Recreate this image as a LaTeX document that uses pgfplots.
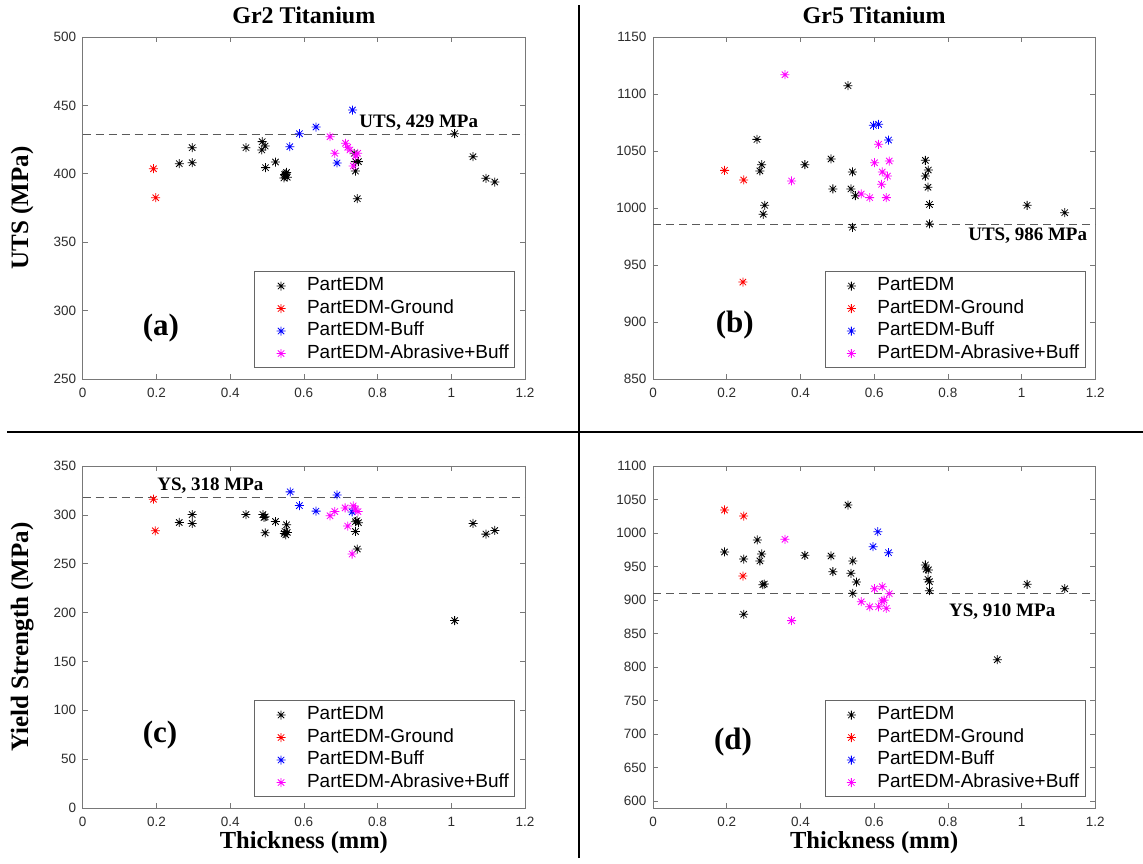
\documentclass[border=0pt]{standalone}
\usepackage{pgfplots}
\pgfplotsset{compat=1.18}
\usepackage{fontspec}
\setmainfont{Liberation Sans}
\newfontfamily\tnr{Liberation Serif}
\definecolor{tickgray}{RGB}{45,45,45}
\definecolor{axgray}{RGB}{120,120,120}
\definecolor{dashgray}{RGB}{90,90,90}
\definecolor{mred}{RGB}{255,0,0}
\definecolor{mblue}{RGB}{0,0,255}
\definecolor{mmag}{RGB}{255,0,255}
\pgfdeclareplotmark{mstar}{%
  \pgfpathmoveto{\pgfqpoint{-\pgfplotmarksize}{0pt}}\pgfpathlineto{\pgfqpoint{\pgfplotmarksize}{0pt}}%
  \pgfpathmoveto{\pgfqpoint{0pt}{-\pgfplotmarksize}}\pgfpathlineto{\pgfqpoint{0pt}{\pgfplotmarksize}}%
  \pgfpathmoveto{\pgfqpoint{-0.707\pgfplotmarksize}{-0.707\pgfplotmarksize}}\pgfpathlineto{\pgfqpoint{0.707\pgfplotmarksize}{0.707\pgfplotmarksize}}%
  \pgfpathmoveto{\pgfqpoint{-0.707\pgfplotmarksize}{0.707\pgfplotmarksize}}\pgfpathlineto{\pgfqpoint{0.707\pgfplotmarksize}{-0.707\pgfplotmarksize}}%
  \pgfusepathqstroke}
\tikzset{
  ann/.style={font=\tnr\bfseries\fontsize{19}{21}\selectfont, anchor=west, inner sep=0pt},
  plab/.style={font=\tnr\bfseries\fontsize{31}{33}\selectfont, inner sep=0pt},
}
\pgfplotsset{
  panel/.style={
    anchor=south west, scale only axis, width=442.3pt, height=342pt,
    xmin=0, xmax=1.2, xtick={0,0.2,0.4,0.6,0.8,1,1.2},
    tick align=inside, tick pos=both, major tick length=5pt,
    axis line style={axgray, line width=0.7pt},
    every tick/.style={axgray, line width=0.7pt},
    /pgf/number format/assume math mode=true,
    /pgf/number format/1000 sep={},
    scaled ticks=false,
    tick label style={font=\fontsize{13.5}{15}\selectfont, text=tickgray},
    yticklabel style={xshift=-3pt},
    xticklabel style={yshift=-6pt},
    title style={font=\tnr\bfseries\fontsize{24}{26}\selectfont, at={(axis description cs:0.5,1)}, anchor=base, yshift=7.7pt},
    xlabel style={font=\tnr\bfseries\fontsize{24.5}{26}\selectfont, at={(axis description cs:0.5,-0.1)}, anchor=center},
    ylabel style={font=\tnr\bfseries\fontsize{25}{27}\selectfont, at={(axis description cs:-0.137,0.5)}, anchor=center},
    legend style={at={(rel axis cs:0.977,0.032)}, anchor=south east,
      font=\fontsize{19}{20}\selectfont, draw=black!60, line width=0.6pt,
      inner xsep=3pt, inner ysep=3pt, row sep=0pt,
      nodes={inner sep=2.6pt, text height=13.5pt, text depth=3.8pt}},
    legend cell align=left,
    legend image code/.code={\draw[mark repeat=2,mark phase=2,#1] plot coordinates {(0pt,0pt) (23pt,0pt) (46pt,0pt)};},
  },
  pts/.style={mark=mstar, mark size=4.5pt, line width=0.8pt, #1, solid, draw opacity=0, mark options={solid, draw opacity=1}},
  ref/.style={dashgray, line width=0.9pt, dash pattern=on 8pt off 5pt, forget plot},
}
\begin{document}
\begin{tikzpicture}[x=1pt,y=1pt]
\useasboundingbox (0,0) rectangle (1143,863);
% (a)
\begin{axis}[panel, at={(82.7pt,484pt)}, ymin=250, ymax=500, ytick={250,300,...,500},
  title={Gr2 Titanium}, ylabel={UTS (MPa)}]
\addplot[ref] coordinates {(0,429) (1.2,429)};
\addplot[pts=black] coordinates {(0.262,407.4) (0.297,419.1) (0.297,408.1) (0.443,419.1) (0.487,423.5) (0.495,420.3) (0.486,417.4) (0.496,404.5) (0.523,408.6) (0.546,397) (0.549,398.5) (0.551,400) (0.553,401) (0.548,399.5) (0.555,397.5) (0.737,415) (0.740,408.9) (0.748,408.9) (0.740,402) (0.745,381.8) (1.009,429.3) (1.059,412.5) (1.094,396.7) (1.118,394)};
\addlegendentry{PartEDM}
\addplot[pts=mred] coordinates {(0.192,403.7) (0.198,382.5)};
\addlegendentry{PartEDM-Ground}
\addplot[pts=mblue] coordinates {(0.562,419.8) (0.588,429.3) (0.633,434.2) (0.732,446.6) (0.690,407.9)};
\addlegendentry{PartEDM-Buff}
\addplot[pts=mmag] coordinates {(0.671,427.1) (0.713,422.3) (0.719,419.4) (0.725,417.4) (0.684,415) (0.746,415) (0.734,405.7) (0.740,413)};
\addlegendentry{PartEDM-Abrasive+Buff}
\node[ann] at (axis cs:0.75,437.6) {UTS, 429 MPa};
\node[plab] at (axis cs:0.212,287.3) {(a)};
\end{axis}
% (b)
\begin{axis}[panel, at={(653pt,484pt)}, ymin=850, ymax=1150, ytick={850,900,...,1150},
  title={Gr5 Titanium}]
\addplot[ref] coordinates {(0,986) (1.2,986)};
\addplot[pts=black] coordinates {(0.529,1107.3) (0.282,1060.2) (0.483,1043) (0.739,1041.8) (0.295,1038) (0.412,1038) (0.290,1032.5) (0.541,1031.6) (0.747,1033.3) (0.739,1028) (0.746,1018.2) (0.488,1016.7) (0.537,1016.7) (0.549,1010.8) (0.750,1003.1) (0.303,1002.4) (0.299,994.5) (0.541,983.1) (0.750,986) (1.015,1002.4) (1.117,995.9)};
\addlegendentry{PartEDM}
\addplot[pts=mred] coordinates {(0.194,1033) (0.246,1024.6) (0.244,935)};
\addlegendentry{PartEDM-Ground}
\addplot[pts=mblue] coordinates {(0.598,1072.5) (0.612,1073.4) (0.639,1059.6)};
\addlegendentry{PartEDM-Buff}
\addplot[pts=mmag] coordinates {(0.358,1116.9) (0.612,1055.9) (0.641,1041.2) (0.601,1039.7) (0.622,1031.6) (0.636,1028) (0.376,1023.7) (0.620,1020.8) (0.565,1012.3) (0.588,1009.1) (0.633,1009.1)};
\addlegendentry{PartEDM-Abrasive+Buff}
\node[ann] at (axis cs:0.855,975.7) {UTS, 986 MPa};
\node[plab] at (axis cs:0.222,897.4) {(b)};
\end{axis}
% (c)
\begin{axis}[panel, at={(82.7pt,55pt)}, ymin=0, ymax=350, ytick={0,50,...,350},
  xlabel={Thickness (mm)}, ylabel={Yield Strength (MPa)}]
\addplot[ref] coordinates {(0,318) (1.2,318)};
\addplot[pts=black] coordinates {(0.262,292.2) (0.297,300.3) (0.297,291.2) (0.443,300.3) (0.489,300.3) (0.495,298) (0.492,297.3) (0.495,281.6) (0.523,293.2) (0.553,289.8) (0.547,281) (0.551,279.6) (0.555,282) (0.549,283) (0.740,293) (0.748,292) (0.744,294) (0.740,283) (0.745,265) (1.059,291.2) (1.094,280.3) (1.118,284) (1.009,191.8)};
\addlegendentry{PartEDM}
\addplot[pts=mred] coordinates {(0.192,316) (0.197,283.7)};
\addlegendentry{PartEDM-Ground}
\addplot[pts=mblue] coordinates {(0.563,323.5) (0.588,309.5) (0.633,303.8) (0.690,320.4) (0.731,303)};
\addlegendentry{PartEDM-Buff}
\addplot[pts=mmag] coordinates {(0.671,299) (0.684,303.4) (0.712,307.1) (0.734,309.2) (0.747,303.4) (0.719,288.5) (0.731,259.9) (0.740,306)};
\addlegendentry{PartEDM-Abrasive+Buff}
\node[ann] at (axis cs:0.202,329.8) {YS, 318 MPa};
\node[plab] at (axis cs:0.21,74.7) {(c)};
\end{axis}
% (d)
\begin{axis}[panel, at={(653pt,55pt)}, ymin=590, ymax=1100, ytick={600,650,...,1100},
  xlabel={Thickness (mm)}]
\addplot[ref] coordinates {(0,910) (1.2,910)};
\addplot[pts=black] coordinates {(0.529,1041.8) (0.283,989.7) (0.194,971.8) (0.246,961.3) (0.295,968.8) (0.290,958.4) (0.302,924) (0.298,923) (0.246,878.9) (0.412,966.8) (0.483,965.8) (0.488,942.4) (0.542,958.4) (0.537,940) (0.552,927) (0.542,910.1) (0.739,952.4) (0.741,946.3) (0.747,945) (0.746,931) (0.750,927.5) (0.750,914) (1.015,923.6) (1.117,917) (0.934,811.2)};
\addlegendentry{PartEDM}
\addplot[pts=mred] coordinates {(0.194,1034.4) (0.246,1025.4) (0.244,935.9)};
\addlegendentry{PartEDM-Ground}
\addplot[pts=mblue] coordinates {(0.610,1002) (0.597,979.7) (0.639,970.7)};
\addlegendentry{PartEDM-Buff}
\addplot[pts=mmag] coordinates {(0.358,990.7) (0.376,869.4) (0.601,917) (0.622,920) (0.641,909.6) (0.565,897.6) (0.588,890.1) (0.612,890.1) (0.627,900) (0.621,898.6) (0.633,887.8)};
\addlegendentry{PartEDM-Abrasive+Buff}
\node[ann] at (axis cs:0.803,882.7) {YS, 910 MPa};
\node[plab] at (axis cs:0.217,688.4) {(d)};
\end{axis}
\draw[line width=2.6pt] (7,431) -- (1143,431);
\draw[line width=2pt] (579,5) -- (579,858);
\end{tikzpicture}
\end{document}
